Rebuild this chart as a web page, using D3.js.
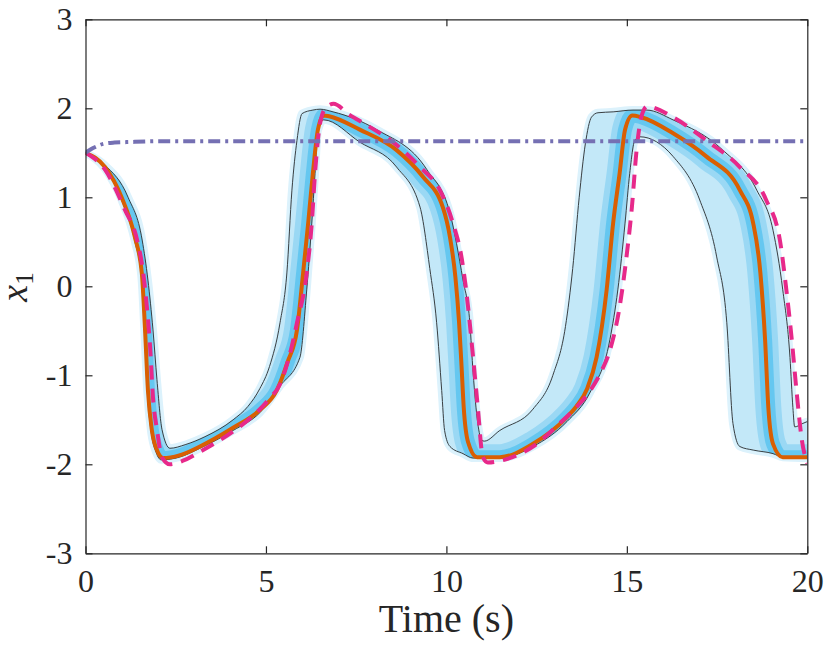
<!DOCTYPE html>
<html>
<head>
<meta charset="utf-8">
<script src="https://cdn.jsdelivr.net/npm/d3@7"></script>
<style>
  body { margin: 0; background: #fff; }
  text { font-family: "Liberation Serif", serif; fill: #262626; }
</style>
</head>
<body>
<svg width="830" height="651"></svg>
<script>
// values: [time (s), x1]
var xTicks = [0, 5, 10, 15, 20];
var yTicks = [-3, -2, -1, 0, 1, 2, 3];

var truePath = [[0,1.50],[0.54,1.31],[1.09,0.86],[1.43,0.52],[1.60,0.15],[1.70,-0.23],[1.79,-0.68],[1.87,-1.25],
  [1.98,-1.61],[2.12,-1.92],[2.34,-2.00],[2.7,-1.96],[3.17,-1.86],[4.09,-1.63],[4.6,-1.47],[5.1,-1.26],[5.39,-1.10],
  [5.65,-0.78],[5.86,-0.41],[6.13,0.15],[6.27,0.71],[6.36,1.27],[6.50,1.83],[6.65,2.0],[6.87,2.05],[7.3,1.93],
  [7.80,1.81],[8.52,1.62],[9.27,1.34],[9.82,1.08],[10.18,0.71],[10.43,0.30],[10.6,-0.23],[10.74,-0.80],[10.87,-1.36],
  [11.01,-1.92],[11.15,-1.98],[11.6,-1.95],[12.4,-1.80],[13.14,-1.54],[13.6,-1.36],[13.97,-1.18],[14.3,-0.95],
  [14.53,-0.72],[14.8,-0.23],[14.99,0.33],[15.14,0.89],[15.27,1.53],[15.4,1.9],[15.56,2.02],[16.28,1.90],[17.2,1.64],
  [18.13,1.34],[18.86,0.97],[19.24,0.52],[19.42,-0.04],[19.57,-0.60],[19.70,-1.17],[19.85,-1.73],[20,-1.99]];

var meanPath = [[0,1.5],[0.54,1.34],[1.0,1.0],[1.37,0.55],[1.56,0.15],[1.65,-0.49],[1.73,-1.17],[1.84,-1.62],
  [1.98,-1.84],[2.15,-1.93],[2.6,-1.9],[3.17,-1.80],[4.09,-1.59],[4.83,-1.39],[5.3,-1.17],[5.6,-0.85],[5.86,-0.49],
  [6.03,0.15],[6.17,0.71],[6.30,1.27],[6.44,1.76],[6.6,1.92],[6.75,1.91],[7.6,1.76],[8.62,1.53],[9.35,1.23],
  [9.9,0.89],[10.1,0.55],[10.25,0.1],[10.35,-0.4],[10.42,-0.9],[10.48,-1.36],[10.6,-1.75],[10.85,-1.92],[11.48,-1.92],
  [12.4,-1.77],[13.34,-1.47],[13.6,-1.35],[13.9,-1.15],[14.16,-0.8],[14.44,-0.04],[14.62,0.71],[14.80,1.27],
  [14.95,1.76],[15.15,1.92],[15.4,1.9],[16.28,1.72],[17.2,1.46],[18.13,1.08],[18.5,0.71],[18.7,0.15],[18.83,-0.6],
  [18.92,-1.36],[19.05,-1.77],[19.32,-1.92],[20,-1.92]];

var bandUpper = [[0,1.5],[0.54,1.36],[1.18,1.0],[1.57,0.52],[1.73,0.07],[1.87,-0.49],[1.98,-1.05],[2.12,-1.61],
  [2.34,-1.82],[2.76,-1.78],[3.31,-1.69],[4.09,-1.5],[4.5,-1.35],[4.83,-1.15],[5.1,-0.9],[5.39,-0.41],[5.58,0.15],
  [5.72,1.08],[5.86,1.64],[6.0,1.94],[6.3,1.98],[6.5,1.99],[6.86,1.96],[8.07,1.76],[9.46,1.31],[10.1,0.82],
  [10.46,0.07],[10.65,-0.41],[10.74,-0.97],[10.87,-1.54],[10.98,-1.73],[11.05,-1.74],[11.48,-1.62],[12.4,-1.38],
  [12.95,-1.0],[13.3,-0.45],[13.5,0.2],[13.68,1.0],[13.85,1.6],[14.02,1.9],[14.2,1.95],[14.62,1.96],[15.17,1.98],
  [15.55,1.98],[16.28,1.87],[17.66,1.53],[18.6,1.08],[19.05,0.63],[19.32,-0.04],[19.52,-0.8],[19.6,-1.36],
  [19.65,-1.58],[19.88,-1.54],[20,-1.52]];

var bandLower = [[0,1.5],[0.54,1.32],[1.0,0.97],[1.37,0.5],[1.55,0.1],[1.63,-0.49],[1.71,-1.17],[1.82,-1.64],
  [1.96,-1.87],[2.1,-1.95],[2.6,-1.92],[3.17,-1.82],[4.09,-1.62],[4.83,-1.42],[5.39,-1.12],[5.94,-0.8],[6.13,-0.04],
  [6.27,0.71],[6.36,1.27],[6.44,1.75],[6.6,1.87],[7.6,1.62],[8.62,1.34],[9.27,0.89],[9.54,0.2],[9.73,-0.41],
  [9.87,-1.17],[9.95,-1.62],[10.1,-1.8],[10.46,-1.88],[10.74,-1.93],[11.48,-1.93],[12.4,-1.8],[13.34,-1.52],
  [13.97,-1.2],[14.53,-0.6],[14.75,-0.04],[14.95,0.71],[15.08,1.27],[15.22,1.64],[15.36,1.68],[16.28,1.46],
  [17.02,0.97],[17.49,0.33],[17.77,-0.41],[17.94,-1.54],[18.13,-1.8],[18.5,-1.84],[19.05,-1.88],[19.32,-1.92],[20,-1.93]];

var filterPath = [[0,1.5],[0.15,1.54],[0.3,1.57],[0.49,1.6],[0.8,1.615],[1.14,1.62],[2.06,1.63],[20,1.63]];

var svg = d3.select("svg");
var pLeft = 85.5, pRight = 807.3, pTop = 19.3, pBottom = 553.3;

var x = d3.scaleLinear().domain([0, 20]).range([pLeft, pRight]);
var y = d3.scaleLinear().domain([-3, 3]).range([pBottom, pTop]);

var line = d3.line()
  .x(function(d) { return x(d[0]); })
  .y(function(d) { return y(d[1]); })
  .curve(d3.curveMonotoneX);

// band outline: upper envelope forward, lower envelope back
var polyPath = line(bandUpper) + "L" + line(bandLower.slice().reverse()).slice(1) + "Z";

var defs = svg.append("defs");
defs.append("clipPath").attr("id", "plotclip")
  .append("rect")
  .attr("x", pLeft).attr("y", pTop)
  .attr("width", pRight - pLeft).attr("height", pBottom - pTop);
defs.append("clipPath").attr("id", "bandclip")
  .append("path").attr("d", polyPath);

var plot = svg.append("g").attr("clip-path", "url(#plotclip)");

// soft glow around the ensemble
plot.append("path")
  .attr("d", polyPath)
  .attr("fill", "none")
  .attr("stroke", "#dcf2fc")
  .attr("stroke-width", 8)
  .attr("stroke-linejoin", "round");

plot.append("path")
  .attr("d", polyPath)
  .attr("fill", "#c3e8f8")
  .attr("stroke", "#c9ebfa")
  .attr("stroke-width", 2);

// denser members around the mean, kept inside the envelope
var inner = plot.append("g").attr("clip-path", "url(#bandclip)");
inner.append("path")
  .datum(meanPath)
  .attr("d", line)
  .attr("fill", "none")
  .attr("stroke", "#9ad8f4")
  .attr("stroke-width", 26)
  .attr("stroke-linejoin", "round");
inner.append("path")
  .datum(meanPath)
  .attr("d", line)
  .attr("fill", "none")
  .attr("stroke", "#5cc4ef")
  .attr("stroke-opacity", 0.85)
  .attr("stroke-width", 14)
  .attr("stroke-linejoin", "round");

// envelope edges
[bandUpper, bandLower].forEach(function(edge) {
  plot.append("path")
    .datum(edge)
    .attr("d", line)
    .attr("fill", "none")
    .attr("stroke", "#3a3f42")
    .attr("stroke-width", 1);
});

plot.append("path")
  .datum(meanPath)
  .attr("d", line)
  .attr("fill", "none")
  .attr("stroke", "#d95f02")
  .attr("stroke-width", 4);

plot.append("path")
  .datum(truePath)
  .attr("d", line)
  .attr("fill", "none")
  .attr("stroke", "#e7298a")
  .attr("stroke-width", 4)
  .attr("stroke-dasharray", "14,9");

plot.append("path")
  .datum(filterPath)
  .attr("d", line)
  .attr("fill", "none")
  .attr("stroke", "#7570b3")
  .attr("stroke-width", 4)
  .attr("stroke-dasharray", "12,5,3,5");

// axes, box on with inward ticks on all sides
function styleAxis(g) {
  g.select(".domain").attr("stroke", "#262626").attr("stroke-width", 1.2);
  g.selectAll(".tick line").attr("stroke", "#262626").attr("stroke-width", 1.2);
  g.selectAll("text").attr("fill", "#262626").style("font-size", "32px")
    .style("font-family", "'Liberation Serif', serif");
}

svg.append("g")
  .attr("transform", "translate(0," + pBottom + ")")
  .call(d3.axisBottom(x).tickValues(xTicks).tickSizeInner(-7).tickSizeOuter(0).tickPadding(16))
  .call(styleAxis);

svg.append("g")
  .attr("transform", "translate(0," + pTop + ")")
  .call(d3.axisTop(x).tickValues(xTicks).tickSizeInner(-7).tickSizeOuter(0).tickFormat(""))
  .call(styleAxis);

svg.append("g")
  .attr("transform", "translate(" + pLeft + ",0)")
  .call(d3.axisLeft(y).tickValues(yTicks).tickSizeInner(-7).tickSizeOuter(0).tickPadding(13)
    .tickFormat(function(d) { return d < 0 ? "-" + Math.abs(d) : d; }))
  .call(styleAxis);

svg.append("g")
  .attr("transform", "translate(" + pRight + ",0)")
  .call(d3.axisRight(y).tickValues(yTicks).tickSizeInner(-7).tickSizeOuter(0).tickFormat(""))
  .call(styleAxis);

svg.append("text")
  .attr("x", (pLeft + pRight) / 2)
  .attr("y", 632)
  .attr("text-anchor", "middle")
  .style("font-size", "40px")
  .text("Time (s)");

var ylab = svg.append("text")
  .attr("transform", "translate(27,287) rotate(-90)")
  .attr("text-anchor", "middle")
  .style("font-size", "38px");
ylab.append("tspan").style("font-style", "italic").text("x");
ylab.append("tspan").attr("dy", 6).style("font-size", "25px").text("1");
</script>
</body>
</html>
